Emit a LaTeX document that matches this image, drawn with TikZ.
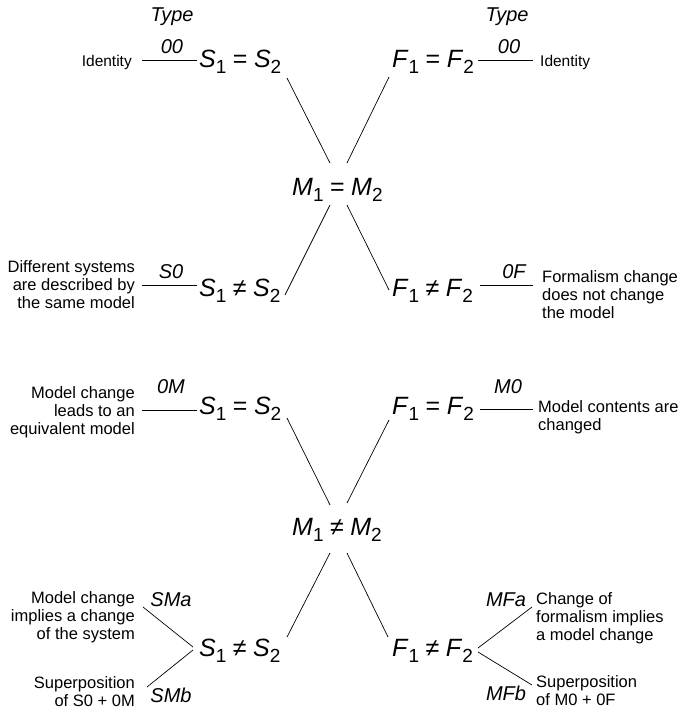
\documentclass[tikz,border=0pt]{standalone}
\usepackage{fontspec}
\setmainfont{Liberation Sans}
\newcommand{\vr}[2]{\textit{#1}\raisebox{-0.27em}{\fontsize{19}{19}\selectfont #2}}
\newcommand{\rel}[1]{\hspace{6.5pt}#1\hspace{6.5pt}}
\tikzset{
  mathnode/.style={inner sep=0pt, anchor=base west, font=\fontsize{25}{27}\selectfont},
  tlabel/.style={inner sep=0pt, font=\fontsize{20}{22}\selectfont\itshape},
  ldesc/.style={inner sep=0pt, anchor=east, align=right, font=\fontsize{16.5}{18}\selectfont},
  rdesc/.style={inner sep=0pt, anchor=west, align=left, font=\fontsize{16.5}{18}\selectfont},
  conn/.style={line width=0.7pt}
}
\begin{document}
\begin{tikzpicture}[x=1pt,y=-1pt]
\useasboundingbox (0,0) rectangle (687,713);
% ---------- block 1 : M1 = M2 ----------
\node[mathnode] (sA) at (199,67) {\vr{S}{1}\rel{=}\vr{S}{2}};
\node[mathnode] (fA) at (392,67) {\vr{F}{1}\rel{=}\vr{F}{2}};
\node[mathnode] (mA) at (292,195) {\vr{M}{1}\rel{=}\vr{M}{2}};
\node[mathnode] (sB) at (199,296) {\vr{S}{1}\rel{≠}\vr{S}{2}};
\node[mathnode] (fB) at (392,296) {\vr{F}{1}\rel{≠}\vr{F}{2}};

\node[tlabel] (typeL) at (172,17) {Type};
\node[tlabel] (typeR) at (507,17) {Type};
\node[tlabel] (l00L) at (172,47) {00};
\node[tlabel] (l00R) at (509,47) {00};
\node[tlabel] (lS0) at (171,272) {S0};
\node[tlabel] (l0F) at (514,272) {0F};

\node[ldesc, font=\fontsize{15.5}{17}\selectfont] (dIdL) at (132,62) {Identity};
\node[rdesc, font=\fontsize{15.5}{17}\selectfont] (dIdR) at (540,62) {Identity};
\node[ldesc] (dS0) at (135,285) {Different systems\\are described by\\the same model};
\node[rdesc] (d0F) at (542,295) {Formalism change\\does not change\\the model};

\coordinate (a1) at (142,60); \coordinate (a2) at (197,60);
\coordinate (b1) at (478,60); \coordinate (b2) at (533,60);
\coordinate (c1) at (142,285); \coordinate (c2) at (197,285);
\coordinate (e1) at (480,285); \coordinate (e2) at (533,285);
\draw[conn] (a1) -- (a2);
\draw[conn] (b1) -- (b2);
\draw[conn] (c1) -- (c2);
\draw[conn] (e1) -- (e2);

\coordinate (mAtl) at (330,163); \coordinate (mAtr) at (347,163);
\coordinate (mAbl) at (330,205); \coordinate (mAbr) at (347,205);
\coordinate (sAe) at (287,78); \coordinate (fAe) at (389,77);
\coordinate (sBe) at (285,295); \coordinate (fBe) at (389,290);
\draw[conn] (sAe) -- (mAtl);
\draw[conn] (fAe) -- (mAtr);
\draw[conn] (sBe) -- (mAbl);
\draw[conn] (fBe) -- (mAbr);

% ---------- block 2 : M1 != M2 ----------
\node[mathnode] (sC) at (199,414) {\vr{S}{1}\rel{=}\vr{S}{2}};
\node[mathnode] (fC) at (392,414) {\vr{F}{1}\rel{=}\vr{F}{2}};
\node[mathnode] (mB) at (292,535) {\vr{M}{1}\rel{≠}\vr{M}{2}};
\node[mathnode] (sD) at (199,656) {\vr{S}{1}\rel{≠}\vr{S}{2}};
\node[mathnode] (fD) at (392,656) {\vr{F}{1}\rel{≠}\vr{F}{2}};

\node[tlabel] (l0M) at (171,387) {0M};
\node[tlabel] (lM0) at (508,387) {M0};
\node[tlabel] (lSMa) at (171,600) {SMa};
\node[tlabel] (lSMb) at (171,695) {SMb};
\node[tlabel] (lMFa) at (506,600) {MFa};
\node[tlabel] (lMFb) at (506,693) {MFb};

\node[ldesc] (d0M) at (135,412) {Model change\\leads to an\\equivalent model};
\node[rdesc] (dM0) at (538,417) {Model contents are\\changed};
\node[ldesc] (dSMa) at (135,617) {Model change\\implies a change\\of the system};
\node[ldesc] (dSMb) at (135,692) {Superposition\\of S0 + 0M};
\node[rdesc] (dMFa) at (536,618) {Change of\\formalism implies\\a model change};
\node[rdesc] (dMFb) at (536,691) {Superposition\\of M0 + 0F};

\coordinate (g1) at (142,410); \coordinate (g2) at (197,410);
\coordinate (h1) at (480,409); \coordinate (h2) at (533,409);
\draw[conn] (g1) -- (g2);
\draw[conn] (h1) -- (h2);

\coordinate (sma1) at (143,607); \coordinate (sma2) at (193,647);
\coordinate (smb1) at (147,687); \coordinate (smb2) at (193,650);
\coordinate (mfa1) at (532,607); \coordinate (mfa2) at (478,648);
\coordinate (mfb1) at (532,685); \coordinate (mfb2) at (478,652);
\draw[conn] (sma1) -- (sma2);
\draw[conn] (smb2) -- (smb1);
\draw[conn] (mfa2) -- (mfa1);
\draw[conn] (mfb2) -- (mfb1);

\coordinate (mBtl) at (330,505); \coordinate (mBtr) at (347,503);
\coordinate (mBbl) at (330,553); \coordinate (mBbr) at (347,553);
\coordinate (sCe) at (287,418); \coordinate (fCe) at (389,420);
\coordinate (sDe) at (287,637); \coordinate (fDe) at (388,637);
\draw[conn] (sCe) -- (mBtl);
\draw[conn] (fCe) -- (mBtr);
\draw[conn] (sDe) -- (mBbl);
\draw[conn] (fDe) -- (mBbr);
\end{tikzpicture}
\end{document}
